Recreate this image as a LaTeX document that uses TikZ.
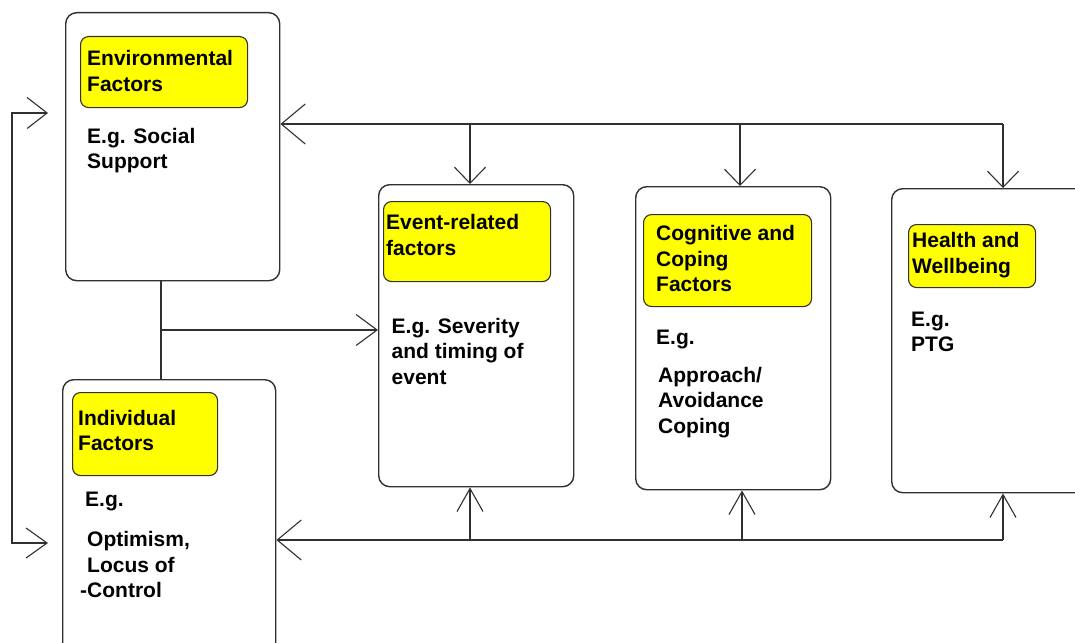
\documentclass[tikz,border=0pt]{standalone}
\usepackage{fontspec}
\setmainfont{Liberation Sans}
\usetikzlibrary{arrows.meta}
\newcommand\ml[1]{\vtop{\halign{##\hfil\cr#1\crcr}}}
\definecolor{lin}{HTML}{303030}
\definecolor{ylw}{HTML}{FFFF00}
\tikzset{
  obox/.style={draw=lin, line width=1.4pt, fill=white, rounded corners=11pt, anchor=north west, inner sep=0pt},
  ybox/.style={draw=lin, line width=1.1pt, fill=ylw, rounded corners=8pt, anchor=north west, inner sep=0pt},
  txt/.style={font=\fontsize{21}{25.6}\selectfont\bfseries, text=black, inner sep=0pt, anchor=base west},
  conn/.style={draw=lin, line width=1.4pt},
  bdown/.style={conn, -{Straight Barb[length=16pt, width=31pt, line width=1.1pt]}},
  bup/.style={conn, -{Straight Barb[length=23pt, width=26pt, line width=1.1pt]}},
  bside/.style={conn, -{Straight Barb[length=21pt, width=31pt, line width=1.1pt]}},
  bbig/.style={conn, -{Straight Barb[length=24pt, width=40pt, line width=1.1pt]}},
}
\begin{document}
\begin{tikzpicture}[x=1pt, y=-1pt]
\useasboundingbox (0,0) rectangle (1075,642);

% outer boxes
\node[obox, minimum width=214pt, minimum height=268pt] (env) at (65,12) {};
\node[obox, minimum width=213pt, minimum height=285pt] (ind) at (62,379) {};
\node[obox, minimum width=195pt, minimum height=302pt] (ev) at (378,184) {};
\node[obox, minimum width=195pt, minimum height=303pt] (cog) at (635,186) {};
\node[obox, minimum width=200pt, minimum height=304pt] (hw) at (891,188) {};

% yellow title boxes
\node[ybox, minimum width=167pt, minimum height=71pt] (envT) at (80,36) {};
\node[ybox, minimum width=145pt, minimum height=83pt] (indT) at (72,392) {};
\node[ybox, minimum width=167pt, minimum height=80pt] (evT) at (383,201) {};
\node[ybox, minimum width=168pt, minimum height=92pt] (cogT) at (643,214) {};
\node[ybox, minimum width=127pt, minimum height=63pt] (hwT) at (908,224) {};

% texts
\node[txt] (envTt) at (87,65.5) {\ml{Environmental\cr Factors}};
\node[txt] (envX) at (87,143) {\ml{E.g. Social\cr Support}};
\node[txt] (indTt) at (78,425) {\ml{Individual\cr Factors}};
\node[txt] (indX) at (85,506.5) {E.g.};
\node[txt] (indY) at (80,546.5) {\ml{\hspace{7pt}Optimism,\cr \hspace{7pt}Locus of\cr -Control}};
\node[txt] (evTt) at (386,229.5) {\ml{Event-related\cr factors}};
\node[txt] (evX) at (391.5,333) {\ml{E.g. Severity\cr and timing of\cr event}};
\node[txt] (cogTt) at (656,240.5) {\ml{Cognitive and\cr Coping\cr Factors}};
\node[txt] (cogX) at (656,344) {E.g.};
\node[txt] (cogY) at (658,382) {\ml{Approach/\cr Avoidance\cr Coping}};
\node[txt] (hwTt) at (912,247.5) {\ml{Health and\cr Wellbeing}};
\node[txt] (hwX) at (911,326) {\ml{E.g.\cr PTG}};

% junction coordinates
\coordinate (tEv) at (470,124);
\coordinate (tCog) at (740,124);
\coordinate (tHw) at (1003,124);
\coordinate (bEv) at (470,540);
\coordinate (bCog) at (742,540);
\coordinate (bHw) at (1003,540);
\coordinate (mid) at (161,330);
\coordinate (lTop) at (12,113);
\coordinate (lBot) at (12,543);

% top feedback line
\draw[bbig] (tHw) -- (env.east |- tHw);
\draw[bdown] (tEv) -- (ev.north -| tEv);
\draw[bdown] (tCog) -- (cog.north -| tCog);
\draw[bdown] (tHw) -- (hw.north -| tHw);

% bottom feedback line
\draw[bbig] (bHw) -- (ind.east |- bHw);
\draw[bup] (bEv) -- (ev.south -| bEv);
\draw[bup] (bCog) -- (cog.south -| bCog);
\draw[bup] (bHw) -- (hw.south -| bHw);

% environment - individual link and arrow to event box
\draw[conn] (env.south -| mid) -- (ind.north -| mid);
\draw[bside] (mid) -- (ev.west |- mid);

% left loop
\draw[conn, {Straight Barb[length=20pt, width=31pt, line width=1.1pt]}-{Straight Barb[length=21pt, width=30pt, line width=1.1pt]}, shorten <=17pt, shorten >=14pt]
  (env.west |- lTop) -- (lTop) -- (lBot) -- (ind.west |- lBot);
\end{tikzpicture}
\end{document}
